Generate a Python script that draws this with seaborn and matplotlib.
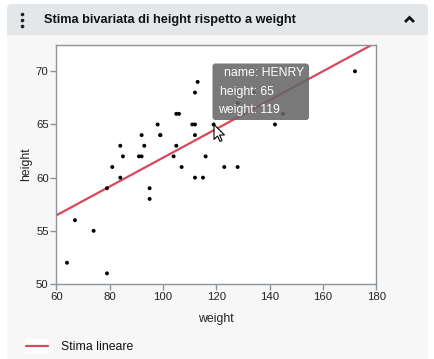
import numpy as np
import pandas as pd
import matplotlib
matplotlib.use("Agg")
import matplotlib.pyplot as plt
from matplotlib.patches import FancyBboxPatch, Rectangle, Polygon
import seaborn as sns

# ---- data (Big Class) ----
names = ["KATIE", "LOUISE", "JANE", "JACLYN", "LILLIE", "TIM", "JAMES", "ROBERT",
         "BARBARA", "ALICE", "SUSAN", "JOHN", "JOE", "MICHAEL", "DAVID", "JUDY",
         "ELIZABETH", "LESLIE", "CAROL", "PATTY", "FREDERICK", "ALFRED", "HENRY",
         "LEWIS", "EDWARD", "CHRIS", "JEFFREY", "MARY", "AMY", "ROBERT", "WILLIAM",
         "CLAY", "MARK", "DANNY", "MARTHA", "MARION", "PHILLIP", "LINDA", "KIRK",
         "LAWRENCE"]
height = [59, 61, 55, 66, 52, 60, 61, 51, 60, 61, 56, 65, 63, 58, 59, 61, 62, 65,
          63, 62, 63, 64, 65, 64, 68, 64, 69, 62, 64, 67, 65, 66, 62, 66, 65, 60,
          68, 62, 68, 70]
weight = [95, 123, 74, 145, 64, 84, 128, 79, 112, 107, 67, 98, 105, 95, 79, 81,
          91, 142, 84, 85, 93, 99, 119, 92, 112, 99, 113, 92, 112, 128, 111, 105,
          104, 106, 112, 115, 128, 116, 134, 172]
x_ticks = [60, 80, 100, 120, 140, 160, 180]
y_ticks = [50, 55, 60, 65, 70]
title = "Stima bivariata di height rispetto a weight"
legend_label = "Stima lineare"
tip_lines = ["name: HENRY", "height: 65", "weight: 119"]

df = pd.DataFrame({"name": names, "height": height, "weight": weight})

W, H = 434, 359
DPI = 100
sns.set_theme(style="white")
plt.rcParams["font.family"] = ["Liberation Sans", "DejaVu Sans"]

fig = plt.figure(figsize=(W / DPI, H / DPI), dpi=DPI)
fig.patch.set_facecolor("white")

# background panel axes (pixel coords)
bg = fig.add_axes([0, 0, 1, 1], zorder=0)
bg.set_xlim(0, W)
bg.set_ylim(H, 0)
bg.axis("off")
bg.add_patch(FancyBboxPatch((7, 4), 421, 380, boxstyle="round,pad=0,rounding_size=5",
                            facecolor="#f7f7f7", edgecolor="none"))
bg.add_patch(FancyBboxPatch((7, 4), 421, 31, boxstyle="round,pad=0,rounding_size=5",
                            facecolor="#e4e7ea", edgecolor="none"))
bg.add_patch(Rectangle((7, 25), 421, 10, facecolor="#e4e7ea", edgecolor="none"))
for yy in (13.5, 19.5, 25.5):
    bg.plot([22], [yy], marker="o", ms=2.6, color="#222222", mew=0)
bg.text(44, 19.5, title, fontsize=9.2, fontweight="bold", color="#111111",
        ha="left", va="center")
bg.plot([405, 409.5, 414], [22, 17.5, 22], color="#111111", lw=2.0,
        solid_capstyle="butt", solid_joinstyle="miter")

# main axes
L, R, T, B = 56.3, 376.3, 44.7, 284.0
ax = fig.add_axes([L / W, 1 - B / H, (R - L) / W, (B - T) / H], zorder=1)
ax.set_facecolor("white")
ax.set_xlim(60, 180)
ax.set_ylim(50, 72.5)

sns.scatterplot(data=df, x="weight", y="height", ax=ax, color="black", s=8,
                edgecolor="none", zorder=3)
sns.regplot(data=df, x="weight", y="height", ax=ax, scatter=False, ci=None,
            truncate=False, color="#d9475a", line_kws={"lw": 1.6, "zorder": 2})
ax.set_xlim(60, 180)
ax.set_ylim(50, 72.5)

ax.set_xticks(x_ticks)
ax.set_xticks(np.arange(70, 180, 20), minor=True)
ax.set_yticks(y_ticks)
ax.set_yticks(np.arange(52.5, 72.5, 5), minor=True)
ax.tick_params(axis="both", which="both", direction="out", length=4, width=1,
               color="#8c9399", labelsize=8.2, labelcolor="#222222", pad=1.5)
ax.tick_params(axis="both", which="minor", length=4)
ax.tick_params(bottom=True, left=True)
for s in ax.spines.values():
    s.set_color("#8c9399")
    s.set_linewidth(1.0)
ax.set_xlabel("weight", fontsize=8.8, color="#222222", labelpad=8)
ax.set_ylabel("height", fontsize=8.8, color="#222222", labelpad=3)

# overlay (tooltip, cursor, legend)
ov = fig.add_axes([0, 0, 1, 1], zorder=5)
ov.set_xlim(0, W)
ov.set_ylim(H, 0)
ov.axis("off")
ov.patch.set_alpha(0)
ov.add_patch(FancyBboxPatch((212.5, 63.5), 96.5, 56.5,
                            boxstyle="round,pad=0,rounding_size=3",
                            facecolor="#666666", alpha=0.88, edgecolor="none"))
for i, (tx, t) in enumerate(zip([223.5, 220.5, 218.5], tip_lines)):
    ov.text(tx, 73.5 + i * 18, t, fontsize=8.8, color="white", ha="left", va="center")
cursor = np.array([[0, 0], [0, 15], [3.5, 11.5], [6, 17], [8, 16], [5.5, 10.5], [10.5, 10.5]])
ov.add_patch(Polygon(cursor + [214, 124.5], closed=True, facecolor="white",
                     edgecolor="black", lw=0.8, joinstyle="miter"))

ov.add_patch(Rectangle((25, 338.5), 23, 15, facecolor="white", edgecolor="none"))
ov.plot([26, 47.5], [346, 346], color="#d9475a", lw=1.6)
ov.text(61, 346.5, legend_label, fontsize=8.8, color="#111111", ha="left", va="center")

fig.savefig("out.png", dpi=DPI)
